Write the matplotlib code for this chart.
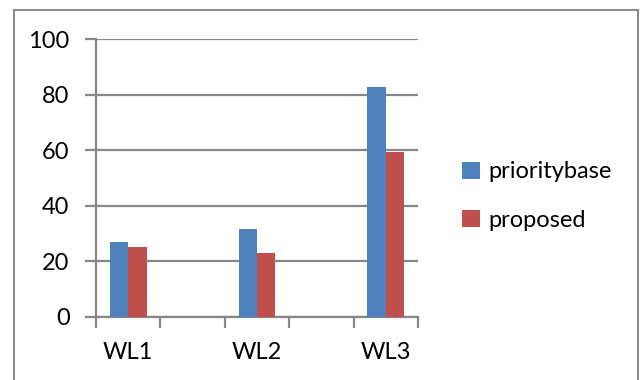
import numpy as np
import matplotlib
matplotlib.use("Agg")
import matplotlib.pyplot as plt
from matplotlib.patches import Rectangle

# Workload categories (blank slots separate the groups on the axis)
categories = ["WL1", "", "WL2", "", "WL3"]
priority_base = [27.0, np.nan, 31.5, np.nan, 82.7]
proposed = [25.2, np.nan, 23.1, np.nan, 59.2]
series_names = ["prioritybase", "proposed"]
y_ticks = [0, 20, 40, 60, 80, 100]

blue = "#4F81BD"
red = "#C0504D"
grey = "#878787"

plt.rcParams["font.family"] = ["Lato", "DejaVu Sans"]
fs = 17

fig = plt.figure(figsize=(6.43, 3.80), dpi=100)
ax = fig.add_axes([96 / 643, 1 - 316.7 / 380, (418 - 96) / 643, (316.7 - 39) / 380])

x = np.arange(len(categories))
w = 0.285
ax.bar(x - w / 2, priority_base, width=w, color=blue, label=series_names[0], zorder=3)
ax.bar(x + w / 2, proposed, width=w, color=red, label=series_names[1], zorder=3)

ax.set_xlim(-0.5, len(categories) - 0.5)
ax.set_ylim(0, 100)
ax.set_yticks(y_ticks)
ax.set_yticklabels([str(v) for v in y_ticks], fontsize=fs)
ax.yaxis.grid(True, color=grey, linewidth=1.6, zorder=0)

# category boundaries carry the tick marks, labels sit at the centres
ax.set_xticks(np.arange(len(categories) + 1) - 0.5)
ax.set_xticklabels([])
ax.set_xticks(x, minor=True)
ax.set_xticklabels(categories, minor=True, fontsize=fs)
ax.tick_params(axis="x", which="major", length=8, width=1.6, color=grey, direction="out")
ax.tick_params(axis="x", which="minor", length=0, pad=18)
ax.tick_params(axis="y", length=8, width=1.6, color=grey, direction="out", pad=11)

for side in ["top", "right"]:
    ax.spines[side].set_visible(False)
for side in ["left", "bottom"]:
    ax.spines[side].set_color(grey)
    ax.spines[side].set_linewidth(1.6)

leg = fig.legend(loc="center left", bbox_to_anchor=(453 / 643, 1 - 196 / 380),
                 frameon=False, fontsize=fs, handlelength=0.75, handleheight=0.75,
                 handletextpad=0.35, labelspacing=1.15, borderaxespad=0)

# outer chart-area frame
fig.patches.append(Rectangle((13.5 / 643, -0.05), (638 - 13.5) / 643, 1.05 - 10 / 380,
                             transform=fig.transFigure, fill=False,
                             edgecolor="#8c8c8c", linewidth=1.5))

fig.savefig("out.png", dpi=100)
